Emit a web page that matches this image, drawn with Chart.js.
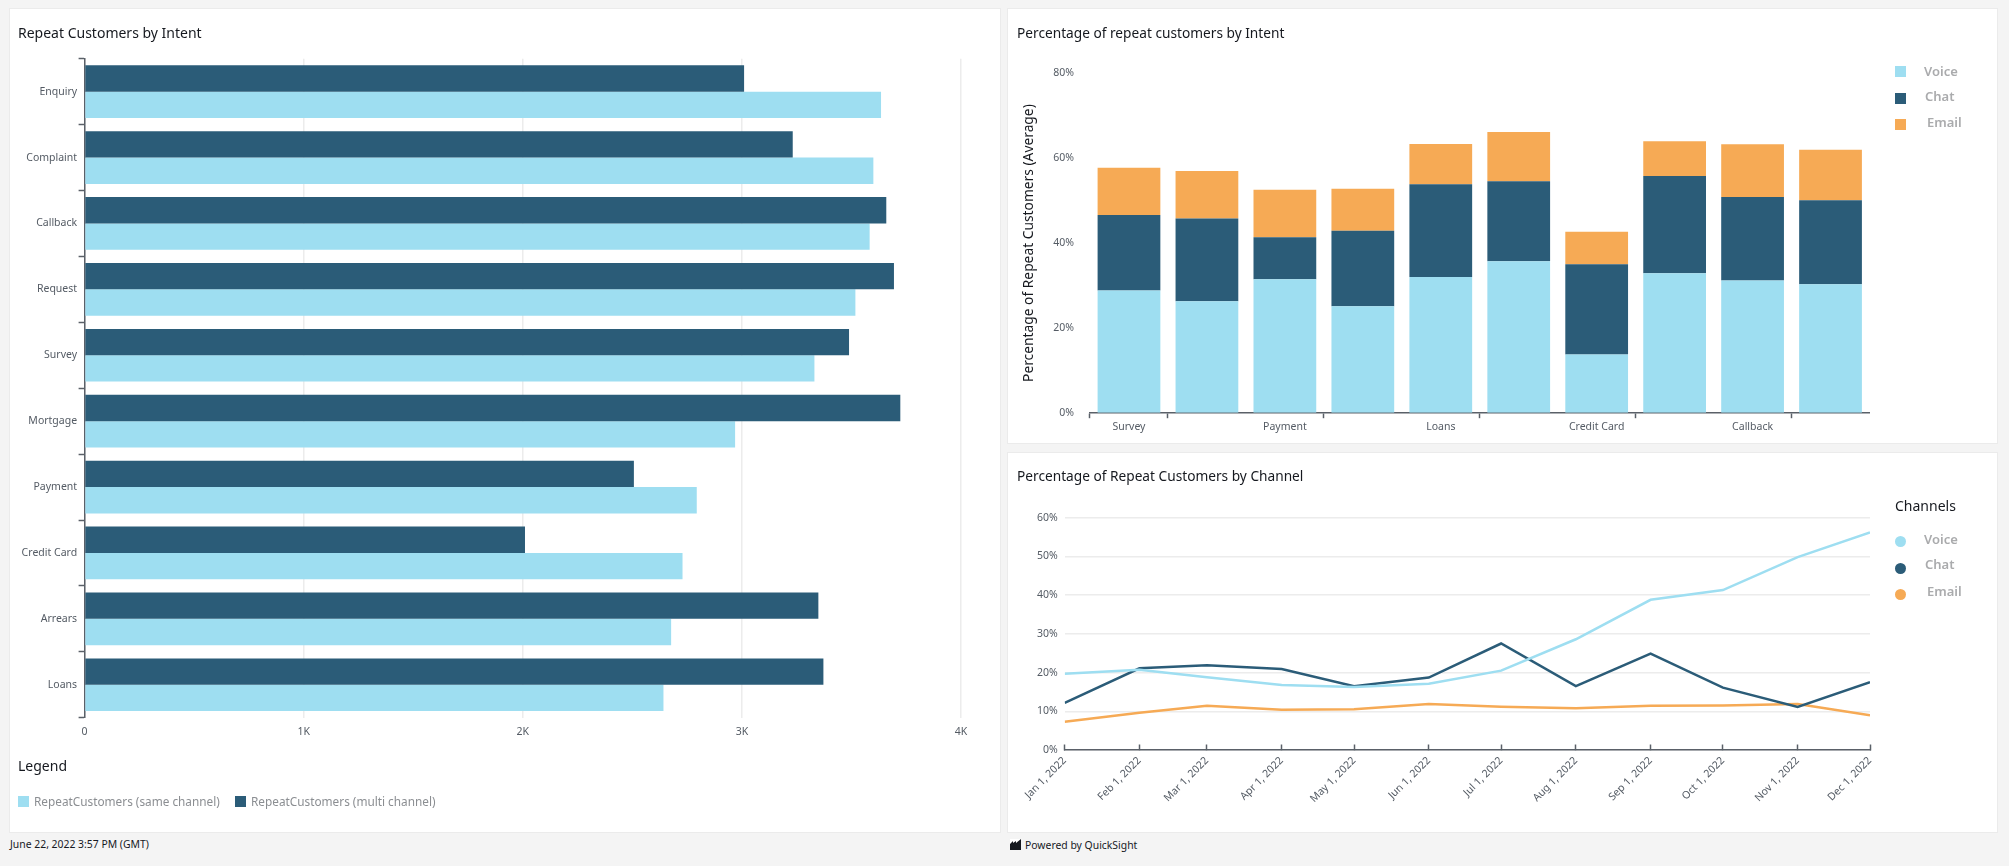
<!DOCTYPE html>
<html>
<head>
    <title>Repeat Customers</title>
    <script src="https://cdn.jsdelivr.net/npm/chart.js"></script>
    <style>
        html, body { margin: 0; padding: 0; background: #f4f4f4; width: 2009px; height: 866px; overflow: hidden; font-family: "Noto Sans", sans-serif; }
        .panel { position: absolute; background: #fff; box-shadow: 0 0 0 1px #ebebeb; }
        canvas { position: absolute; left: 0; top: 0; }
        .txt { position: absolute; white-space: nowrap; transform: translateY(-50%); line-height: 1; }
        .title { font-size: 14px; color: #16191f; }
        .title-small { font-size: 13.7px; }
        .legend-text { font-size: 11.8px; color: #8b8e92; }
        .side-text { font-size: 13px; color: #aaabad; font-weight: 600; }
        .foot { font-size: 10.4px; color: #16191f; }
        .swatch { position: absolute; width: 11px; height: 11px; }
        .dot { border-radius: 50%; }
    </style>
</head>
<body>
    <div class="panel" style="left:10px;top:9px;width:990px;height:823px;"><canvas id="intentChart" width="990" height="823"></canvas></div>
    <div class="panel" style="left:1008px;top:9px;width:989px;height:434px;"><canvas id="percentChart" width="989" height="434"></canvas></div>
    <div class="panel" style="left:1008px;top:453px;width:989px;height:379px;"><canvas id="channelChart" width="989" height="379"></canvas></div>

    <div class="txt title" style="left:18px;top:33px;">Repeat Customers by Intent</div>
    <div class="txt title title-small" style="left:1017px;top:33px;">Percentage of repeat customers by Intent</div>
    <div class="txt title title-small" style="left:1017px;top:476px;">Percentage of Repeat Customers by Channel</div>

    <div class="txt title" style="left:18px;top:766px;">Legend</div>
    <div class="swatch" style="left:18px;top:796px;background:#9edef1;"></div>
    <div class="txt legend-text" style="left:34px;top:802px;">RepeatCustomers (same channel)</div>
    <div class="swatch" style="left:235px;top:796px;background:#2b5c78;"></div>
    <div class="txt legend-text" style="left:251px;top:802px;">RepeatCustomers (multi channel)</div>

    <div class="swatch" style="left:1895px;top:66px;background:#9edef1;"></div>
    <div class="txt side-text" style="left:1924px;top:71px;">Voice</div>
    <div class="swatch" style="left:1895px;top:93px;background:#2b5c78;"></div>
    <div class="txt side-text" style="left:1925px;top:96px;">Chat</div>
    <div class="swatch" style="left:1895px;top:119px;background:#f6aa55;"></div>
    <div class="txt side-text" style="left:1927px;top:122px;">Email</div>

    <div class="txt title" style="left:1895px;top:506px;">Channels</div>
    <div class="swatch dot" style="left:1895px;top:536px;background:#9edef1;"></div>
    <div class="txt side-text" style="left:1924px;top:539px;">Voice</div>
    <div class="swatch dot" style="left:1895px;top:563px;background:#2b5c78;"></div>
    <div class="txt side-text" style="left:1925px;top:564px;">Chat</div>
    <div class="swatch dot" style="left:1895px;top:589px;background:#f6aa55;"></div>
    <div class="txt side-text" style="left:1927px;top:591px;">Email</div>

    <div class="txt foot" style="left:10px;top:844px;">June 22, 2022 3:57 PM (GMT)</div>
    <svg style="position:absolute;left:1010px;top:839px;" width="11" height="11" viewBox="0 0 11 11">
        <rect width="11" height="11" fill="#16191f"/>
        <path d="M0 5 L3 2 L3 4 L6 2 L6 4 L11 0 L11 0 L0 0 Z" fill="#fff"/>
    </svg>
    <div class="txt foot" style="left:1025px;top:845px;">Powered by QuickSight</div>

    <script>
        // Repeat Customers by Intent
        const intents = ['Enquiry', 'Complaint', 'Callback', 'Request', 'Survey', 'Mortgage', 'Payment', 'Credit Card', 'Arrears', 'Loans'];
        const sameChannel = [3635, 3600, 3583, 3518, 3331, 2969, 2794, 2729, 2677, 2642];
        const multiChannel = [3010, 3232, 3659, 3694, 3489, 3723, 2507, 2010, 3349, 3372];

        // Percentage of repeat customers by Intent
        const intentsSorted = ['Survey', 'Request', 'Payment', 'Mortgage', 'Loans', 'Enquiry', 'Credit Card', 'Complaint', 'Callback', 'Arrears'];
        const voiceByIntent = [28.8, 26.3, 31.5, 25.1, 32.0, 35.7, 13.7, 32.9, 31.2, 30.3];
        const chatByIntent = [17.8, 19.5, 9.9, 17.8, 21.9, 18.9, 21.3, 22.9, 19.7, 19.8];
        const emailByIntent = [11.2, 11.2, 11.2, 9.9, 9.5, 11.6, 7.7, 8.2, 12.4, 11.9];

        // Percentage of Repeat Customers by Channel (days since Jan 1)
        const monthLabels = ['Jan 1, 2022', 'Feb 1, 2022', 'Mar 1, 2022', 'Apr 1, 2022', 'May 1, 2022', 'Jun 1, 2022', 'Jul 1, 2022', 'Aug 1, 2022', 'Sep 1, 2022', 'Oct 1, 2022', 'Nov 1, 2022', 'Dec 1, 2022'];
        const monthDays = [0, 31, 59, 90, 120, 151, 181, 212, 243, 273, 304, 334];
        const voiceByMonth = [19.7, 20.7, 18.8, 16.8, 16.3, 17.1, 20.5, 28.6, 38.8, 41.3, 49.8, 56.2];
        const chatByMonth = [12.2, 21.1, 21.9, 20.9, 16.5, 18.7, 27.5, 16.5, 24.9, 16.1, 11.1, 17.5];
        const emailByMonth = [7.3, 9.6, 11.4, 10.4, 10.5, 11.9, 11.2, 10.8, 11.4, 11.5, 11.9, 9.0];

        const lightBlue = '#9edef1';
        const darkBlue = '#2b5c78';
        const orange = '#f6aa55';
        const axisColor = '#5a6068';
        const gridColor = '#ececec';
        const tickText = '#545b64';

        Chart.defaults.font.family = '"Noto Sans", sans-serif';
        Chart.defaults.font.size = 10.5;
        Chart.defaults.color = tickText;
        Chart.defaults.animation = false;
        Chart.defaults.responsive = false;
        Chart.defaults.plugins.legend.display = false;
        Chart.defaults.plugins.tooltip.enabled = false;

        function points(values) {
            return values.map(function (v, i) { return { x: monthDays[i], y: v }; });
        }

        new Chart(document.getElementById('intentChart'), {
            type: 'bar',
            data: {
                labels: intents,
                datasets: [
                    { label: 'RepeatCustomers (multi channel)', data: multiChannel, backgroundColor: darkBlue },
                    { label: 'RepeatCustomers (same channel)', data: sameChannel, backgroundColor: lightBlue }
                ]
            },
            options: {
                indexAxis: 'y',
                layout: { padding: { top: 49.7, right: 39 } },
                datasets: { bar: { categoryPercentage: 0.8, barPercentage: 1 } },
                scales: {
                    x: {
                        min: 0, max: 4000,
                        afterFit: function (s) { s.height = 114.3; },
                        border: { display: false },
                        grid: { color: gridColor, lineWidth: 1.5, drawTicks: false },
                        ticks: {
                            stepSize: 1000, padding: 8, maxRotation: 0,
                            callback: function (v) { return v === 0 ? '0' : (v / 1000) + 'K'; }
                        }
                    },
                    y: {
                        afterFit: function (s) { s.width = 74.6; },
                        border: { color: axisColor, width: 1.5 },
                        grid: { drawOnChartArea: false, tickColor: axisColor, tickLength: 6, tickWidth: 1.5 },
                        ticks: { padding: 1.5 }
                    }
                }
            }
        });

        new Chart(document.getElementById('percentChart'), {
            type: 'bar',
            data: {
                labels: intentsSorted,
                datasets: [
                    { label: 'Voice', data: voiceByIntent, backgroundColor: lightBlue },
                    { label: 'Chat', data: chatByIntent, backgroundColor: darkBlue },
                    { label: 'Email', data: emailByIntent, backgroundColor: orange }
                ]
            },
            options: {
                layout: { padding: { top: 64.5, right: 127.5 } },
                datasets: { bar: { categoryPercentage: 0.805, barPercentage: 1 } },
                scales: {
                    x: {
                        stacked: true,
                        afterFit: function (s) { s.height = 30.3; },
                        border: { color: axisColor, width: 1.5 },
                        grid: {
                            drawOnChartArea: false, tickLength: 5.5, tickWidth: 1.5,
                            // one mark per labelled group, like the original axis
                            tickColor: function (ctx) {
                                if (ctx.index === undefined) return 'transparent';
                                return (ctx.index === 0 || ctx.index % 2 === 1) ? axisColor : 'transparent';
                            }
                        },
                        ticks: {
                            autoSkip: false, maxRotation: 0, padding: 3,
                            callback: function (v, i) { return i % 2 === 0 ? intentsSorted[i] : ''; }
                        }
                    },
                    y: {
                        stacked: true,
                        min: 0, max: 80,
                        afterFit: function (s) { s.width = 82; },
                        border: { display: false },
                        grid: { display: false },
                        title: {
                            display: true,
                            text: 'Percentage of Repeat Customers (Average)',
                            color: '#16191f',
                            font: { size: 13.8 },
                            padding: { top: 13, bottom: 0 }
                        },
                        ticks: {
                            stepSize: 20, padding: 8,
                            callback: function (v) { return v + '%'; }
                        }
                    }
                }
            }
        });

        new Chart(document.getElementById('channelChart'), {
            type: 'line',
            data: {
                datasets: [
                    { label: 'Voice', data: points(voiceByMonth), borderColor: lightBlue, backgroundColor: lightBlue },
                    { label: 'Chat', data: points(chatByMonth), borderColor: darkBlue, backgroundColor: darkBlue },
                    { label: 'Email', data: points(emailByMonth), borderColor: orange, backgroundColor: orange }
                ]
            },
            options: {
                layout: { padding: { top: 64.7, right: 127 } },
                elements: { point: { radius: 0 }, line: { borderWidth: 2.5, tension: 0 } },
                scales: {
                    x: {
                        type: 'linear',
                        min: 0, max: 334,
                        afterFit: function (s) { s.height = 82; },
                        afterBuildTicks: function (s) {
                            s.ticks = monthDays.map(function (d) { return { value: d }; });
                        },
                        border: { color: axisColor, width: 1.5 },
                        grid: { drawOnChartArea: false, tickColor: axisColor, tickLength: -5.5, tickWidth: 1.5 },
                        ticks: {
                            autoSkip: false, minRotation: 45, maxRotation: 45, padding: 10,
                            callback: function (v, i) { return monthLabels[i]; }
                        }
                    },
                    y: {
                        min: 0, max: 60,
                        afterFit: function (s) { s.width = 56.7; },
                        border: { display: false },
                        grid: { color: gridColor, lineWidth: 1.5, drawTicks: false },
                        ticks: {
                            stepSize: 10, padding: 7,
                            callback: function (v) { return v + '%'; }
                        }
                    }
                }
            }
        });
    </script>
</body>
</html>
